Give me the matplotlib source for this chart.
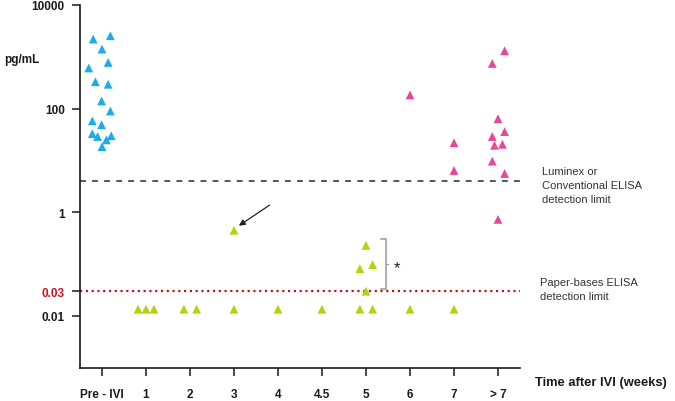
import numpy as np
import matplotlib
matplotlib.use("Agg")
from matplotlib import pyplot as plt
from matplotlib.ticker import FixedLocator, FixedFormatter

plt.rcParams['font.family'] = ['Liberation Sans', 'DejaVu Sans']

# categories on the x axis
categories = ['Pre - IVI', '1', '2', '3', '4', '4.5', '5', '6', '7', '> 7']

# pre-IVI (blue), pg/mL
pre_pos = [0, 0, 0, 0, 0, 0, 0, 0, 0, 0, 0, 0, 0, 0, 0, 0]
pre_jit = [-0.20, 0.19, 0.0, -0.30, 0.14, -0.15, 0.14, -0.01,
           0.19, -0.22, -0.01, -0.22, -0.10, 0.21, 0.10, 0.0]
pre_val = [2200, 2550, 1410, 610, 780, 330, 296, 141,
           90, 58, 49, 33, 29, 30, 25, 18.5]

# after IVI, below the conventional limit (green)
low_pos = [1, 1, 1, 2, 2, 3, 3, 4, 5, 6, 6, 6, 6, 6, 6, 7, 8]
low_jit = [-0.18, 0.0, 0.18, -0.14, 0.15, 0.0, 0.0, 0.0, 0.0,
           -0.14, 0.15, 0.0, -0.14, 0.15, 0.0, 0.0, 0.0]
low_val = [0.0135, 0.0135, 0.0135, 0.0135, 0.0135, 0.0135, 0.45, 0.0135, 0.0135,
           0.0135, 0.0135, 0.23, 0.082, 0.098, 0.030, 0.0135, 0.0135]

# after IVI, above the conventional limit (pink)
high_pos = [7, 8, 8, 9, 9, 9, 9, 9, 9, 9, 9, 9, 9]
high_jit = [0.0, 0.0, 0.0, 0.15, -0.13, 0.0, 0.15, -0.13, -0.08, 0.10, -0.13, 0.15, 0.0]
high_val = [184, 22, 6.4, 1306, 745, 64, 36, 29, 19.6, 20.5, 9.7, 5.6, 0.73]

# y ticks
ytick_vals = [0.01, 0.03, 1, 100, 10000]
ytick_txt = ['0.01', '0.03', '1', '100', '10000']

conv_limit = 4.0
paper_limit = 0.03

blue = '#1CACE6'
green = '#B7D10C'
pink = '#E8489B'
red = '#CC1020'

fig = plt.figure(figsize=(6.75, 4.02), dpi=100)
ax = fig.add_axes([80/675, 1 - 369.3/402, 440/675, 363.3/402])

ax.set_yscale('log')
ax.set_ylim(10**-3.01, 10000)
ax.set_xlim(-0.5, 9.5)

ax.axhline(conv_limit, color='#555555', lw=1.4, ls=(0, (3, 3.2)), zorder=1)
ax.axhline(paper_limit, color=red, lw=1.6, ls=(0, (1, 1.6)), zorder=1)

ax.scatter(np.array(pre_pos) + np.array(pre_jit), pre_val, marker='^', s=40,
           color=blue, edgecolors='none', zorder=3)
ax.scatter(np.array(low_pos) + np.array(low_jit), low_val, marker='^', s=40,
           color=green, edgecolors='none', zorder=3)
ax.scatter(np.array(high_pos) + np.array(high_jit), high_val, marker='^', s=40,
           color=pink, edgecolors='none', zorder=3)

# arrow to the week 3 point
ax.annotate('', xy=(3.11, 0.55), xytext=(3.81, 1.38),
            arrowprops=dict(arrowstyle='-|>', color='#222222', lw=0.9,
                            mutation_scale=9, shrinkA=0, shrinkB=0))

# bracket and star at week 5
ax.plot([6.33, 6.46, 6.46, 6.33], [0.306, 0.306, 0.0332, 0.0332],
        color='#999999', lw=1.1, solid_joinstyle='miter', zorder=2)
ax.plot([6.46, 6.51], [0.1, 0.1], color='#999999', lw=0.8)
ax.text(6.70, 0.085, '*', fontsize=12, ha='center', va='center', color='#222222')

for side in ['top', 'right']:
    ax.spines[side].set_visible(False)
for side in ['left', 'bottom']:
    ax.spines[side].set_linewidth(1.2)
    ax.spines[side].set_color('#1a1a1a')

ax.yaxis.set_major_locator(FixedLocator(ytick_vals))
ax.yaxis.set_major_formatter(FixedFormatter(ytick_txt))
ax.yaxis.set_minor_locator(FixedLocator([]))
ax.set_xticks(range(len(categories)))
ax.set_xticklabels(categories)
ax.tick_params(axis='both', length=6, width=1.1, color='#1a1a1a',
               labelsize=8.5, labelcolor='#1a1a1a')
ax.tick_params(axis='y', pad=5)
ax.tick_params(axis='x', pad=8)
for lab in ax.get_yticklabels() + ax.get_xticklabels():
    lab.set_fontweight('bold')
ax.get_yticklabels()[1].set_color(red)

fig.text(4/675, 1 - 60/402, 'pg/mL', fontsize=8.5, fontweight='bold',
         ha='left', va='center', color='#1a1a1a')
fig.text(535/675, 1 - 383.5/402, 'Time after IVI (weeks)', fontsize=9.3,
         fontweight='bold', ha='left', va='center', color='#1a1a1a')
fig.text(542.5/675, 1 - 186/402, 'Luminex or\nConventional ELISA\ndetection limit',
         fontsize=8, ha='left', va='center', color='#333333', linespacing=1.45)
fig.text(539.5/675, 1 - 290/402, 'Paper-bases ELISA\ndetection limit',
         fontsize=8, ha='left', va='center', color='#333333', linespacing=1.45)

fig.savefig('out.png', dpi=100)
